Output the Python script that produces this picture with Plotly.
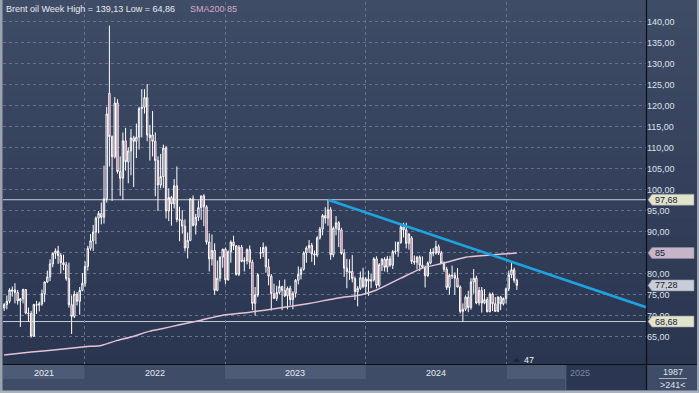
import plotly.graph_objects as go
import pandas as pd

# ---------------- data (weekly Brent) ----------------
opens = [71.9, 72.7, 73.5, 75.9, 76.2, 75.6, 73.6, 74.1, 76.3, 70.7,
         70.6, 65.2, 72.7, 72.6, 72.9, 75.3, 78.1, 79.3, 82.4, 84.9,
         85.5, 84.4, 82.7, 82.2, 78.9, 72.7, 69.9, 75.2, 73.5, 76.1,
         77.8, 81.8, 86.1, 87.9, 90.0, 93.3, 94.4, 93.5, 97.9, 123.0,
         112.7, 107.9, 120.7, 104.4, 102.8, 111.7, 106.7, 109.3, 112.4, 111.6,
         112.6, 119.4, 119.7, 122.0, 112.5, 113.1, 111.6, 107.0, 101.2, 103.2,
         110.0, 95.0, 98.2, 96.7, 101.0, 93.0, 92.8, 91.4, 86.2, 88.0,
         97.9, 91.6, 93.5, 95.8, 98.6, 96.0, 87.6, 83.6, 85.6, 76.1,
         79.0, 84.0, 85.9, 78.6, 85.3, 87.6, 86.7, 79.9, 86.4, 83.0,
         83.2, 85.8, 82.8, 73.0, 75.0, 84.9, 85.1, 86.3, 81.7, 79.5,
         75.3, 74.2, 75.6, 77.0, 76.1, 74.8, 76.6, 73.9, 75.4, 78.5,
         79.9, 81.1, 85.0, 86.2, 86.8, 84.8, 84.5, 88.6, 90.7, 93.9,
         93.3, 95.3, 84.6, 90.9, 92.2, 90.5, 84.9, 81.4, 80.3, 80.6,
         78.9, 75.8, 76.6, 79.1, 77.0, 78.8, 78.3, 78.6, 83.6, 77.3,
         82.2, 83.5, 81.6, 83.6, 82.1, 85.3, 85.4, 87.5, 91.2, 90.5,
         87.3, 88.6, 83.0, 82.8, 84.0, 82.1, 81.6, 79.6, 82.6, 85.2,
         85.0, 86.5, 85.0, 82.6, 81.1, 76.8, 79.5, 79.7, 79.0, 76.9,
         71.1, 71.6, 74.5, 72.0, 78.1, 79.0, 73.1, 76.1, 73.1, 73.9,
         71.0, 75.2, 72.9, 71.1, 74.5, 72.9, 74.2, 76.5, 79.8, 81.0,
         78.5]
highs = [73.1, 74.9, 76.6, 77.0, 77.8, 76.2, 74.3, 76.5, 76.4, 72.0,
         71.2, 72.9, 73.6, 73.4, 76.3, 78.2, 80.8, 83.5, 85.1, 86.1,
         86.7, 85.0, 84.6, 82.9, 82.7, 74.9, 76.0, 75.7, 76.9, 80.2,
         83.0, 86.7, 89.5, 91.7, 93.7, 95.0, 97.0, 105.8, 119.8, 139.13,
         113.0, 122.1, 121.6, 108.0, 113.7, 114.8, 110.2, 114.5, 112.9, 115.8,
         119.8, 124.0, 124.0, 125.2, 115.5, 118.8, 113.7, 108.0, 108.6, 110.8,
         110.5, 100.4, 98.6, 102.6, 105.6, 96.0, 95.2, 93.0, 89.9, 98.0,
         98.7, 94.3, 97.5, 98.6, 99.0, 96.4, 89.7, 89.4, 87.3, 83.2,
         84.2, 86.0, 86.3, 85.6, 88.0, 89.1, 86.9, 86.9, 86.9, 84.0,
         86.1, 86.8, 83.4, 76.9, 80.2, 86.4, 87.5, 86.7, 83.6, 80.0,
         77.7, 77.2, 78.5, 77.2, 78.7, 77.0, 77.2, 75.9, 78.8, 81.8,
         81.6, 85.4, 86.6, 88.1, 87.4, 85.6, 89.0, 91.2, 94.3, 95.9,
         97.68, 95.9, 91.3, 93.8, 92.6, 91.0, 85.9, 83.6, 83.5, 84.5,
         79.4, 77.1, 80.6, 81.5, 79.3, 80.8, 80.0, 84.0, 84.2, 82.6,
         83.8, 84.0, 84.3, 84.3, 85.7, 87.7, 87.7, 91.9, 92.2, 92.2,
         89.7, 89.0, 84.4, 84.3, 84.4, 84.2, 82.0, 83.0, 86.0, 86.2,
         87.9, 87.0, 85.5, 83.0, 81.7, 80.0, 82.0, 80.4, 81.4, 77.3,
         73.0, 74.9, 76.0, 79.0, 81.2, 79.6, 76.9, 76.9, 76.4, 74.5,
         75.6, 75.6, 74.5, 74.7, 74.8, 74.4, 76.8, 80.8, 82.6, 81.5,
         78.9]
lows = [71.2, 71.6, 73.0, 74.6, 73.0, 72.7, 67.4, 73.0, 70.4, 68.6,
        64.86, 65.0, 70.5, 71.1, 72.4, 73.3, 77.9, 78.3, 81.6, 83.6,
        82.4, 80.1, 80.9, 78.4, 72.0, 65.7, 69.5, 72.5, 70.3, 75.9,
        77.0, 80.8, 85.6, 85.5, 87.1, 89.7, 91.8, 92.0, 97.0, 105.6,
        97.4, 107.5, 103.9, 98.6, 97.6, 104.6, 101.6, 103.5, 100.7, 107.6,
        109.6, 112.5, 118.2, 111.6, 107.0, 108.0, 98.5, 95.0, 100.4, 100.5,
        93.2, 92.6, 91.5, 95.6, 92.3, 87.8, 89.6, 85.4, 83.7, 87.8,
        91.3, 89.4, 92.6, 92.9, 91.4, 87.0, 80.6, 82.0, 75.1, 75.9,
        78.2, 81.5, 77.6, 78.4, 82.7, 85.7, 79.6, 79.5, 82.8, 80.6,
        82.3, 81.2, 71.4, 70.1, 74.5, 83.6, 84.0, 80.3, 77.3, 71.3,
        74.0, 73.6, 75.2, 71.4, 74.5, 71.6, 72.6, 71.6, 74.4, 77.5,
        78.7, 80.8, 82.7, 85.0, 82.9, 82.1, 84.0, 88.2, 89.2, 92.0,
        91.5, 83.4, 84.0, 89.2, 86.4, 84.6, 79.3, 76.6, 78.6, 78.0,
        73.8, 72.3, 76.2, 76.6, 75.3, 74.8, 76.6, 78.2, 76.6, 76.8,
        80.7, 80.6, 80.4, 81.7, 81.2, 84.7, 84.1, 87.2, 88.7, 86.1,
        85.8, 82.4, 82.2, 81.1, 80.7, 81.3, 76.8, 79.3, 82.3, 84.2,
        84.6, 84.5, 82.5, 80.5, 76.2, 75.1, 78.8, 75.1, 76.8, 70.6,
        68.68, 71.2, 70.9, 71.5, 75.3, 72.8, 72.5, 70.8, 72.8, 70.9,
        70.9, 71.2, 71.0, 70.9, 71.4, 72.5, 73.0, 75.9, 79.0, 77.9,
        76.2]
closes = [72.7, 73.5, 76.2, 76.2, 75.6, 73.6, 74.1, 76.3, 70.7, 70.6,
          65.2, 72.7, 72.6, 72.9, 75.3, 78.1, 79.3, 82.4, 84.9, 85.5,
          84.4, 82.7, 82.2, 78.9, 72.7, 69.9, 75.2, 73.5, 76.1, 77.8,
          81.8, 86.1, 87.9, 90.0, 93.3, 94.4, 93.5, 97.9, 118.1, 112.7,
          107.9, 120.7, 104.4, 102.8, 111.7, 106.7, 109.3, 112.4, 111.6, 112.6,
          119.4, 119.7, 122.0, 113.1, 113.1, 111.6, 107.0, 101.2, 103.2, 110.0,
          95.0, 98.2, 96.7, 101.0, 93.0, 92.8, 91.4, 86.2, 88.0, 97.9,
          91.6, 93.5, 95.8, 98.6, 96.0, 87.6, 83.6, 85.6, 76.1, 79.0,
          84.0, 85.9, 78.6, 85.3, 87.6, 86.7, 79.9, 86.4, 83.0, 83.2,
          85.8, 82.8, 73.0, 75.0, 79.8, 85.1, 86.3, 81.7, 79.5, 75.3,
          74.2, 75.6, 77.0, 76.1, 74.8, 76.6, 73.9, 75.4, 78.5, 79.9,
          81.1, 85.0, 86.2, 86.8, 84.8, 84.5, 88.6, 90.7, 93.9, 93.3,
          95.3, 84.6, 90.9, 92.2, 90.5, 84.9, 81.4, 80.6, 80.6, 78.9,
          75.8, 76.6, 79.1, 77.0, 78.8, 78.3, 78.6, 83.6, 77.3, 82.2,
          83.5, 81.6, 83.6, 82.1, 85.3, 85.4, 87.5, 91.2, 90.5, 87.3,
          89.5, 83.0, 82.8, 84.0, 82.1, 81.6, 79.6, 82.6, 85.2, 85.0,
          86.5, 85.0, 82.6, 81.1, 76.8, 79.7, 79.7, 79.0, 76.9, 71.1,
          71.6, 74.5, 72.0, 78.1, 79.0, 73.1, 76.1, 73.1, 73.9, 71.0,
          75.2, 72.9, 71.1, 74.5, 72.9, 74.2, 76.5, 79.8, 81.0, 78.5,
          77.28]
dates = pd.date_range("2021-06-07", periods=len(closes), freq="7D")

# 200-week SMA, read at a number of bars
sma_idx = [0, 10, 21, 30, 36, 42, 47, 54, 58, 65, 73, 81, 91, 102, 113,
           124, 132, 138, 147, 155, 163, 171, 180, 190]
sma_vals = [60.7, 61.4, 62.1, 62.7, 63.0, 64.2, 65.0, 66.4, 66.9, 67.9, 69.0,
            70.2, 70.9, 71.9, 73.0, 74.3, 75.0, 76.2, 79.0, 81.4, 82.6, 84.0,
            84.5, 85.0]

trend_dates = ["2023-09-25", "2025-12-28"]
trend_vals = [97.68, 72.1]

level_vals = [97.68, 68.68]

y_tickvals = [65, 70, 75, 80, 85, 90, 95, 100, 105, 110, 115, 120, 125, 130, 135, 140]
y_ticktext = ["65,00", "70,00", "75,00", "80,00", "", "90,00", "95,00", "100,00",
              "105,00", "110,00", "115,00", "120,00", "125,00", "130,00", "135,00", "140,00"]

year_starts = ["2022-01-01", "2023-01-01", "2024-01-01", "2025-01-01"]
year_labels = ["2021", "2022", "2023", "2024"]
year_label_dates = ["2021-09-18", "2022-07-02", "2023-07-02", "2024-07-02"]

tag_texts = ["97,68", "85", "77,28", "68,68"]
tag_vals = [97.68, 85.0, 77.28, 68.68]
tag_colors = ["#e2e3cb", "#c7b4c9", "#c9cdd8", "#e2e3cb"]

title_text = "Brent oil Week High = 139,13 Low = 64,86"
sma_text = "SMA200 85"

# ---------------- layout geometry (pixels) ----------------
W, H = 699, 393
PL, PR, PT, PB = 3, 646, 2, 364
Y0, Y1 = 58.57, 144.76
X_RANGE = ["2021-06-04", "2025-12-28"]
FUTURE_START = "2025-06-03"
FONT = "Liberation Sans"


def xp(px):
    return (px - PL) / (PR - PL)


def yp(py):
    return (PB - py) / (PB - PT)


fig = go.Figure()

fig.add_trace(go.Candlestick(
    x=dates, open=opens, high=highs, low=lows, close=closes,
    increasing=dict(line=dict(color="#ffffff", width=1), fillcolor="rgba(0,0,0,0)"),
    decreasing=dict(line=dict(color="#ffffff", width=1), fillcolor="#a8274f"),
    hoverinfo="skip", showlegend=False,
))

fig.add_trace(go.Scatter(
    x=[dates[i] for i in sma_idx], y=sma_vals, mode="lines",
    line=dict(color="#e3c3d6", width=1.5, shape="spline", smoothing=0.6),
    hoverinfo="skip", showlegend=False,
))

fig.add_trace(go.Scatter(
    x=trend_dates, y=trend_vals, mode="lines",
    line=dict(color="#1fa2e0", width=2.6),
    hoverinfo="skip", showlegend=False, cliponaxis=False,
))

shapes = []
# gradient background (plot area and right axis panel)
n = 40
top = (63, 76, 102)
bot = (42, 53, 80)
for k in range(n):
    t = (k + 0.5) / n
    c = tuple(round(top[j] + (bot[j] - top[j]) * t) for j in range(3))
    shapes.append(dict(type="rect", xref="paper", yref="paper",
                       x0=xp(0), x1=xp(697), y0=1 - (k + 1) / n - 0.002, y1=1 - k / n,
                       fillcolor="rgb(%d,%d,%d)" % c, line=dict(width=0), layer="below"))

# level lines
for v in level_vals:
    shapes.append(dict(type="line", xref="paper", yref="y", x0=0, x1=1, y0=v, y1=v,
                       line=dict(color="#c9cdd6", width=1), layer="below"))

# bottom strip
shapes.append(dict(type="rect", xref="paper", yref="paper", x0=xp(PL), x1=xp(697),
                   y0=yp(390), y1=yp(365), fillcolor="#3f4c67", line=dict(width=0), layer="below"))
band_spans = [(X_RANGE[0], "2022-01-01"), ("2023-01-01", "2024-01-01"), ("2025-01-01", FUTURE_START)]
for a, b in band_spans:
    shapes.append(dict(type="rect", xref="x", yref="paper", x0=a, x1=b,
                       y0=yp(379), y1=yp(365), fillcolor="#4e5b77", line=dict(width=0), layer="below"))
shapes.append(dict(type="rect", xref="x", yref="paper", x0=FUTURE_START, x1=X_RANGE[1],
                   y0=yp(390), y1=yp(365), fillcolor="#2b3652", line=dict(width=0), layer="below"))
shapes.append(dict(type="line", xref="x", yref="paper", x0=FUTURE_START, x1=FUTURE_START,
                   y0=yp(390), y1=yp(365), line=dict(color="#56627c", width=1), layer="below"))

# frame borders
shapes.append(dict(type="rect", xref="paper", yref="paper", x0=xp(0), x1=xp(2.5),
                   y0=yp(H), y1=yp(0), fillcolor="#9aa3b2", line=dict(width=0), layer="above"))
shapes.append(dict(type="rect", xref="paper", yref="paper", x0=xp(697), x1=xp(W),
                   y0=yp(H), y1=yp(0), fillcolor="#9aa3b2", line=dict(width=0), layer="above"))
shapes.append(dict(type="rect", xref="paper", yref="paper", x0=xp(0), x1=xp(W),
                   y0=yp(H), y1=yp(390.5), fillcolor="#a9b1be", line=dict(width=0), layer="above"))
# separators
shapes.append(dict(type="line", xref="paper", yref="paper", x0=xp(646.5), x1=xp(646.5),
                   y0=yp(390), y1=yp(0), line=dict(color="#0b0f18", width=1.2), layer="above"))
shapes.append(dict(type="line", xref="paper", yref="paper", x0=xp(PL), x1=xp(697),
                   y0=yp(364.5), y1=yp(364.5), line=dict(color="#0b0f18", width=1.2), layer="above"))
# line under 1987
shapes.append(dict(type="line", xref="paper", yref="paper", x0=xp(659), x1=xp(687),
                   y0=yp(378.5), y1=yp(378.5), line=dict(color="#aab2c0", width=1), layer="above"))
# small marker triangle near "47"
shapes.append(dict(type="path", xref="paper", yref="paper",
                   path="M %f,%f L %f,%f L %f,%f Z" % (xp(513), yp(362), xp(516.5), yp(358), xp(520), yp(362)),
                   fillcolor="#1d2535", line=dict(width=0), layer="above"))

# value tags on the right axis
hh = 5.5 / ((PB - PT) / (Y1 - Y0))
for txt, v, col in zip(tag_texts, tag_vals, tag_colors):
    path = "M %f,%f L %f,%f L %f,%f L %f,%f L %f,%f Z" % (
        xp(648), v, xp(652), v + hh, xp(694), v + hh, xp(694), v - hh, xp(652), v - hh)
    shapes.append(dict(type="path", xref="paper", yref="y", path=path,
                       fillcolor=col, line=dict(color="#8d93a3", width=0.6), layer="above"))

annotations = []
annotations.append(dict(text=title_text, xref="paper", yref="paper", x=xp(4), y=yp(9),
                        xanchor="left", yanchor="middle", showarrow=False,
                        font=dict(family=FONT, size=9, color="#e8ebf1")))
annotations.append(dict(text=sma_text, xref="paper", yref="paper", x=xp(188), y=yp(9),
                        xanchor="left", yanchor="middle", showarrow=False,
                        font=dict(family=FONT, size=9, color="#d9a9c4")))
for txt, v in zip(tag_texts, tag_vals):
    annotations.append(dict(text=txt, xref="paper", yref="y", x=xp(652.5), y=v,
                            xanchor="left", yanchor="middle", showarrow=False,
                            font=dict(family=FONT, size=9, color="#1a2030")))
for lab, d in zip(year_labels, year_label_dates):
    annotations.append(dict(text=lab, xref="x", yref="paper", x=d, y=yp(372.5),
                            xanchor="center", yanchor="middle", showarrow=False,
                            font=dict(family=FONT, size=9, color="#e6e9f0")))
annotations.append(dict(text="2025", xref="paper", yref="paper", x=xp(567.5), y=yp(372.5),
                        xanchor="left", yanchor="middle", showarrow=False,
                        font=dict(family=FONT, size=9, color="#7e899f")))
annotations.append(dict(text="47", xref="paper", yref="paper", x=xp(522), y=yp(359.5),
                        xanchor="left", yanchor="middle", showarrow=False,
                        font=dict(family=FONT, size=9, color="#f0f2f6")))
annotations.append(dict(text="1987", xref="paper", yref="paper", x=xp(672.5), y=yp(371.5),
                        xanchor="center", yanchor="middle", showarrow=False,
                        font=dict(family=FONT, size=9, color="#dfe3ea")))
annotations.append(dict(text="&gt;241&lt;", xref="paper", yref="paper", x=xp(672.5), y=yp(384.5),
                        xanchor="center", yanchor="middle", showarrow=False,
                        font=dict(family=FONT, size=9, color="#dfe3ea")))

fig.update_layout(
    width=W, height=H,
    margin=dict(l=PL, r=W - PR, t=PT, b=H - PB, pad=0),
    paper_bgcolor="#3f4c67", plot_bgcolor="rgba(0,0,0,0)",
    font=dict(family=FONT, size=9, color="#dce1ea"),
    showlegend=False, boxgap=0.28,
    shapes=shapes, annotations=annotations,
    xaxis=dict(type="date", range=X_RANGE, rangeslider=dict(visible=False),
               tickvals=year_starts, showticklabels=False, ticks="",
               showgrid=True, gridcolor="#66738f", griddash="3px,3px", gridwidth=1,
               zeroline=False, showline=False, fixedrange=True),
    yaxis=dict(side="right", range=[Y0, Y1], tickvals=y_tickvals, ticktext=y_ticktext,
               ticks="", ticklen=0, showgrid=True, gridcolor="#66738f", griddash="3px,3px",
               gridwidth=1, zeroline=False, showline=False, fixedrange=True,
               tickfont=dict(family=FONT, size=9, color="#dce1ea")),
)

fig.write_html("out.html", config={"displayModeBar": False},
               post_script="document.body.style.margin='0px';document.body.style.overflow='hidden';")
